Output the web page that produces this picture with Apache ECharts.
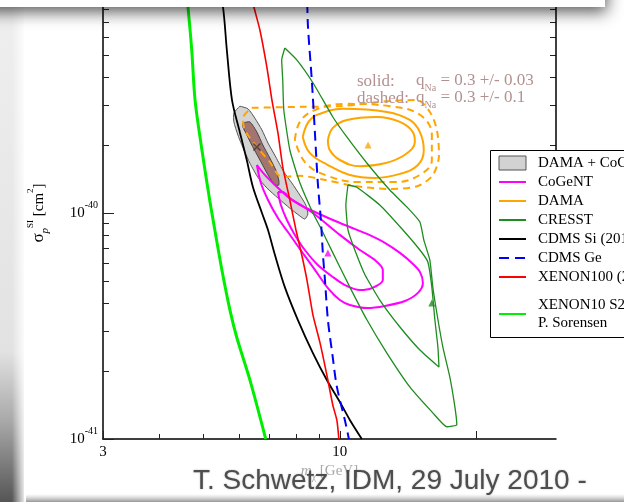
<!DOCTYPE html>
<html><head><meta charset="utf-8">
<script src="https://cdn.jsdelivr.net/npm/echarts@6/dist/echarts.min.js"></script>
<style>html,body{margin:0;padding:0;background:#fff;}#c{width:624px;height:502px;}</style>
</head><body><div id="c"></div>
<script>
// ---- axis ticks (mass in GeV, cross-section in units of 1e-40 cm^2) ----
const xTickMajor = [3, 10, 20];
const xTickLabels = [3, 10];
const xTickMinor = [4, 5, 6, 7, 8, 9];
const yTickMajor = [0.1, 1, 10];
const yTickLabels = [0.1, 1];
const yLabelExp = {0.1: '-41', 1: '-40'};
const yTickMinor = [0.2, 0.3, 0.4, 0.5, 0.6, 0.7, 0.8, 0.9, 2, 3, 4, 5, 6, 7, 8, 9];
const yTickRight = [2, 3, 4, 5, 6, 7, 8, 9];

// ---- exclusion limits [mass, sigma/1e-40] ----
const xenon10 = [[4.57,10],[4.62,8.16],[4.71,5.26],[4.79,3.16],[4.96,1.90],[5.16,1.14],[5.32,0.80],[5.49,0.56],[5.72,0.372],[5.92,0.282],[6.33,0.1825],[6.86,0.1]];
const cdmsSi = [[5.38,10],[5.52,8.16],[5.63,5.26],[5.78,3.16],[6.02,2.26],[6.23,1.716],[6.43,1.30],[6.73,1.0],[6.94,0.841],[7.19,0.652],[7.56,0.470],[8.08,0.336],[8.72,0.240],[9.36,0.1825],[10.0,0.1458],[10.52,0.1214],[11.18,0.1]];
const xenon100 = [[6.30,10],[6.46,8.16],[6.66,6.45],[6.90,4.42],[7.08,3.16],[7.30,2.26],[7.48,1.60],[7.755,1.14],[8.00,0.841],[8.24,0.652],[8.46,0.505],[8.72,0.354],[9.03,0.269],[9.36,0.192],[9.65,0.141],[9.85,0.121],[9.95,0.1]];
const cdmsGe = [[8.46,10],[8.50,6.79],[8.67,3.88],[8.81,2.26],[8.94,1.358],[9.08,0.931],[9.17,0.666],[9.27,0.505],[9.41,0.336],[9.63,0.2355],[9.85,0.170],[10.26,0.121],[10.47,0.1]];

// ---- allowed regions (closed contours) ----
const dcOuter = [[6.015,2.97],[5.835,2.77],[5.835,2.53],[5.955,2.215],[6.14,1.90],[6.33,1.66],[6.59,1.44],[6.90,1.29],[7.30,1.165],[7.755,1.05],[8.16,0.97],[8.37,0.94],[8.50,0.99],[8.41,1.085],[8.16,1.20],[7.83,1.36],[7.52,1.52],[7.22,1.77],[6.94,2.04],[6.73,2.33],[6.49,2.63],[6.27,2.89],[6.015,2.97]];
const dcInner = [[6.11,2.505],[6.33,2.53],[6.56,2.28],[6.76,2.00],[7.006,1.75],[7.22,1.55],[7.33,1.40],[7.33,1.33],[7.19,1.33],[6.94,1.474],[6.66,1.716],[6.39,2.00],[6.20,2.26],[6.11,2.40],[6.11,2.505]];
const cogentOuter = [[6.56,1.631],[6.83,1.474],[7.19,1.33],[7.68,1.176],[8.16,1.085],[8.81,1.01],[9.65,0.931],[10.52,0.867],[11.48,0.808],[12.57,0.738],[13.57,0.666],[14.42,0.601],[15.02,0.549],[15.25,0.49],[14.87,0.443],[13.92,0.408],[12.57,0.388],[11.48,0.380],[10.52,0.392],[10.0,0.412],[9.41,0.465],[8.81,0.560],[8.16,0.693],[7.68,0.824],[7.30,0.95],[6.94,1.142],[6.69,1.36],[6.56,1.631]];
const cogentInner = [[7.30,1.239],[7.48,1.239],[7.755,1.165],[8.72,1.0],[10.0,0.80],[11.07,0.686],[11.95,0.619],[12.44,0.560],[12.44,0.505],[11.77,0.465],[11.07,0.456],[10.26,0.480],[9.65,0.521],[8.94,0.589],[8.37,0.686],[7.955,0.80],[7.64,0.931],[7.41,1.085],[7.30,1.239]];
const cresstOuter = [[7.56,5.37],[8.04,4.75],[8.72,3.77],[9.65,2.66],[10.36,2.17],[11.48,1.66],[12.89,1.264],[14.06,1.063],[15.02,0.913],[15.32,0.760],[15.80,0.619],[16.04,0.470],[16.37,0.361],[16.88,0.255],[17.49,0.188],[17.94,0.139],[18.12,0.1156],[17.22,0.1133],[16.04,0.1305],[14.27,0.170],[12.70,0.240],[11.48,0.336],[10.52,0.470],[9.65,0.666],[9.12,0.841],[8.72,1.0],[8.16,1.36],[7.755,1.90],[7.52,2.857],[7.48,3.88],[7.44,4.75],[7.56,5.37]];
const cresstInner = [[10.42,1.33],[10.90,1.30],[12.25,1.085],[13.78,0.841],[15.02,0.686],[15.64,0.607],[15.96,0.470],[16.21,0.336],[16.46,0.255],[16.55,0.208],[15.02,0.2476],[13.57,0.313],[12.25,0.412],[11.36,0.533],[10.79,0.686],[10.42,0.841],[10.31,1.085],[10.42,1.33]];
const damaSolidInner = [[9.41,2.104],[9.65,2.38],[10.36,2.58],[12.07,2.66],[13.57,2.53],[14.49,2.28],[14.64,2.06],[13.92,1.81],[12.57,1.66],[11.07,1.61],[10.0,1.716],[9.50,1.90],[9.41,2.104]];
const damaSolidOuter = [[8.28,2.17],[8.50,2.505],[8.90,2.716],[10.15,2.89],[12.70,2.80],[14.27,2.58],[15.02,2.28],[15.32,1.90],[14.87,1.63],[13.57,1.49],[11.95,1.43],[10.52,1.474],[9.41,1.63],[8.59,1.84],[8.28,2.17]];
const damaDashMid = [[7.955,2.104],[8.16,2.53],[8.81,2.857],[10.26,3.04],[12.89,2.97],[15.02,2.72],[15.96,2.215],[15.96,1.716],[15.02,1.474],[13.23,1.37],[11.07,1.37],[9.27,1.474],[8.37,1.68],[7.955,2.104]];
const damaDashOuter = [[6.39,2.92],[8.16,2.95],[10.0,2.97],[12.89,3.13],[14.79,3.162],[15.80,2.80],[16.37,2.33],[16.55,1.806],[16.04,1.474],[14.87,1.317],[12.89,1.277],[10.79,1.317],[9.27,1.40],[8.16,1.46],[7.44,1.444],[7.006,1.68],[6.56,1.96],[6.17,2.33],[6.11,2.63],[6.39,2.92]];

// ---- best-fit points ----
const dcBest = [[6.56,1.96]];
const damaBest = [[11.54,2.0]];
const cogentBest = [[9.41,0.666]];
const cresstBest = [[15.96,0.40]];

const serif = '"Liberation Serif", "Times New Roman", serif';
const sans = '"Liberation Sans", Arial, sans-serif';
const C = {mag:'#ff00ff', ora:'#ffa500', cre:'#1e8c1e', blk:'#000000', blue:'#0000ff', red:'#ff0000', lime:'#00ee00'};
const noteColor = '#b39191';

function line(name, data, color, width, dash, smooth) {
  return {type:'line', name, data, xAxisIndex:0, yAxisIndex:0, showSymbol:false, symbol:'none',
    smooth: smooth || false, z:2, silent:true, animation:false,
    lineStyle:{color, width, type: dash || 'solid'}, itemStyle:{color}, emphasis:{disabled:true}};
}
function poly(name, data, fill, stroke) {
  return {type:'custom', name, data, xAxisIndex:0, yAxisIndex:0, z:1, silent:true, itemStyle:{color:fill},
    renderItem:(p, api) => p.dataIndex === 0 ? {type:'polygon',
      shape:{points:data.map(d => api.coord(d)), smooth:0.2},
      style:{fill, stroke, lineWidth:1}} : null};
}
function marker(name, data, symbol, color, size, border) {
  return {type:'scatter', name, data, xAxisIndex:0, yAxisIndex:0, symbol, symbolSize:size, z:5, silent:true,
    itemStyle: border ? {color:'none', borderColor:color, borderWidth:1.5} : {color}};
}
function logAxis(extra) {
  return Object.assign({type:'log', logBase:10, splitLine:{show:false}, minorTick:{show:false}, minorSplitLine:{show:false}}, extra);
}
const axLine = {show:true, lineStyle:{color:'#000', width:1.5}};
const tickStyle = {color:'#222', width:1};
const supRich = {
  a:{fontFamily:serif, fontSize:15, color:'#000', lineHeight:16, verticalAlign:'bottom'},
  b:{fontFamily:serif, fontSize:10, color:'#000', lineHeight:10, padding:[5,0,11,0], verticalAlign:'bottom'}
};
const noteRich = {
  q:{fontFamily:serif, fontSize:17, fill:noteColor, lineHeight:17, verticalAlign:'bottom', padding:[0,0,4,0]},
  s:{fontFamily:serif, fontSize:10, fill:noteColor, lineHeight:10, verticalAlign:'bottom'}
};
const legendText = {fontFamily:serif, fontSize:15, color:'#000', padding:[0,0,0,7]};
const hiddenSymbol = {color:'rgba(0,0,0,0)', borderColor:'rgba(0,0,0,0)', borderWidth:0};

const option = {
  animation:false,
  backgroundColor:'#ffffff',
  grid:{left:103, right:68, top:-13, bottom:63, containLabel:false, outerBoundsMode:'none'},
  xAxis:[
    logAxis({min:3, max:30, position:'bottom', gridIndex:0, axisLine:axLine,
      axisTick:{show:true, inside:true, length:8, customValues:xTickMajor, lineStyle:tickStyle},
      axisLabel:{show:true, customValues:xTickLabels, formatter:v => String(Math.round(v)), fontFamily:serif, fontSize:15, color:'#000', margin:6},
      name:'{i|m}{s|χ}{n| [GeV]}', nameLocation:'middle', nameGap:27, nameMoveOverlap:false,
      nameTextStyle:{rich:{
        i:{fontFamily:serif, fontStyle:'italic', fontSize:15, color:'#a8a8a8', lineHeight:16, verticalAlign:'bottom', padding:[0,0,3,0]},
        s:{fontFamily:serif, fontSize:10, color:'#a8a8a8', lineHeight:10, verticalAlign:'bottom'},
        n:{fontFamily:serif, fontSize:15, color:'#a8a8a8', lineHeight:16, verticalAlign:'bottom', padding:[0,0,3,0]}}}}),
    logAxis({min:3, max:30, position:'bottom', gridIndex:0, axisLine:{show:false},
      axisTick:{show:true, inside:true, length:5, customValues:xTickMinor, lineStyle:tickStyle},
      axisLabel:{show:false}})
  ],
  yAxis:[
    logAxis({min:0.1, max:10, position:'left', gridIndex:0, axisLine:axLine,
      axisTick:{show:true, inside:true, length:11, customValues:yTickMajor, lineStyle:tickStyle},
      axisLabel:{show:true, customValues:yTickLabels, margin:5,
        formatter:v => '{a|10}{b|' + yLabelExp[v] + '}', rich:supRich},
      name:'{g|σ}{p|p}{u|SI}{n| [cm}{u|2}{n|]}', nameLocation:'middle', nameRotate:90, nameGap:52, nameMoveOverlap:false,
      nameTextStyle:{rich:{
        g:{fontFamily:serif, fontSize:17, color:'#000', lineHeight:18, verticalAlign:'bottom', padding:[0,0,4,0]},
        p:{fontFamily:serif, fontStyle:'italic', fontSize:11, color:'#000', lineHeight:11, verticalAlign:'bottom'},
        u:{fontFamily:serif, fontSize:9, color:'#000', lineHeight:9, verticalAlign:'bottom', padding:[0,0,16,0]},
        n:{fontFamily:serif, fontSize:15, color:'#000', lineHeight:16, verticalAlign:'bottom', padding:[0,0,4,0]}}}}),
    logAxis({min:0.1, max:10, position:'left', gridIndex:0, axisLine:{show:false},
      axisTick:{show:true, inside:true, length:6, customValues:yTickMinor, lineStyle:tickStyle},
      axisLabel:{show:false}}),
    logAxis({min:0.1, max:10, position:'right', gridIndex:0, axisLine:{show:false},
      axisTick:{show:true, inside:true, length:6, customValues:yTickRight, lineStyle:tickStyle},
      axisLabel:{show:false}})
  ],
  legend:[
    {left:498, top:153.5, orient:'vertical', padding:0, itemGap:0, itemWidth:27, itemHeight:14, selectedMode:false, z:6,
      itemStyle:hiddenSymbol,
      textStyle:Object.assign({lineHeight:19}, legendText),
      data:[{name:'DAMA + CoGeNT', icon:'rect', itemStyle:{color:'#d2d2d2', borderColor:'#555', borderWidth:1}},
        'CoGeNT', 'DAMA', 'CRESST', 'CDMS Si (2010)', 'CDMS Ge', 'XENON100 (2010)']},
    {left:498, top:296, orient:'vertical', padding:0, itemGap:0, itemWidth:27, itemHeight:14, selectedMode:false, z:6,
      itemStyle:hiddenSymbol,
      textStyle:Object.assign({lineHeight:18}, legendText),
      data:['XENON10 S2\nP. Sorensen']}
  ],
  graphic:[
    {type:'line', z:1, shape:{x1:556, y1:0, x2:556, y2:150}, style:{stroke:'#000', lineWidth:1.5}},
    {type:'rect', z:3, shape:{x:490.5, y:150.5, width:200, height:187}, style:{fill:'#fff', stroke:'#000', lineWidth:1}},
    {type:'text', z:3, x:357, y:82, style:{text:'solid:', font:'17px ' + serif, fill:noteColor, verticalAlign:'middle'}},
    {type:'text', z:3, x:357, y:99, style:{text:'dashed:', font:'17px ' + serif, fill:noteColor, verticalAlign:'middle'}},
    {type:'text', z:3, x:416, y:85, style:{text:'{q|q}{s|Na}{q| = 0.3 +/- 0.03}', verticalAlign:'middle', rich:noteRich}},
    {type:'text', z:3, x:416, y:102, style:{text:'{q|q}{s|Na}{q| = 0.3 +/- 0.1}', verticalAlign:'middle', rich:noteRich}},
    {type:'rect', z:20, shape:{x:0, y:0, width:24, height:502},
      style:{fill:new echarts.graphic.LinearGradient(0,0,0,1,[{offset:0,color:'#efefef'},{offset:0.7,color:'#e2e2e2'},{offset:0.84,color:'#a8a8a8'},{offset:1,color:'#555'}])}},
    {type:'rect', z:20, shape:{x:12, y:0, width:14, height:502},
      style:{fill:new echarts.graphic.LinearGradient(0,0,1,0,[{offset:0,color:'rgba(255,255,255,0)'},{offset:1,color:'rgba(255,255,255,1)'}])}},
    {type:'rect', z:19, shape:{x:0, y:494, width:624, height:8},
      style:{fill:new echarts.graphic.LinearGradient(0,0,0,1,[{offset:0,color:'rgba(190,190,190,0)'},{offset:1,color:'rgba(150,150,150,1)'}])}},
    {type:'rect', z:20, shape:{x:-20, y:-30, width:625, height:37},
      style:{fill:'#fff', shadowBlur:16, shadowOffsetY:5, shadowOffsetX:2, shadowColor:'rgba(0,0,0,0.65)'}},
    {type:'text', z:21, x:193, y:481, style:{text:'T. Schwetz, IDM, 29 July 2010 -', font:'28px ' + sans, fill:'#4d4d4d',
      verticalAlign:'middle', textShadowBlur:2, textShadowColor:'rgba(0,0,0,0.25)'}}
  ],
  series:[
    poly('DAMA + CoGeNT', dcOuter, '#d4d4d4', '#555'),
    poly('DAMA + CoGeNT', dcInner, '#a47470', '#444'),
    line('CoGeNT', cogentOuter, C.mag, 2, null, 0.3),
    line('CoGeNT', cogentInner, C.mag, 2, null, 0.3),
    line('DAMA', damaSolidInner, C.ora, 2, null, 0.4),
    line('DAMA', damaSolidOuter, C.ora, 2, null, 0.4),
    line('DAMA', damaDashMid, C.ora, 2, [7,5], 0.4),
    line('DAMA', damaDashOuter, C.ora, 2, [7,5], 0.3),
    line('CRESST', cresstOuter, C.cre, 1.3, null, 0.15),
    line('CRESST', cresstInner, C.cre, 1.3, null, 0.15),
    line('CDMS Si (2010)', cdmsSi, C.blk, 1.8, null, 0.3),
    line('CDMS Ge', cdmsGe, C.blue, 2, [10,6], 0.3),
    line('XENON100 (2010)', xenon100, C.red, 1.6, null, 0.2),
    line('XENON10 S2\nP. Sorensen', xenon10, C.lime, 3, null, 0.3),
    marker('DAMA + CoGeNT best fit', dcBest, 'path://M0,0L10,10M10,0L0,10', '#333', 7, true),
    marker('DAMA best fit', damaBest, 'triangle', C.ora, 7),
    marker('CoGeNT best fit', cogentBest, 'triangle', C.mag, 7),
    marker('CRESST best fit', cresstBest, 'triangle', C.cre, 7)
  ]
};
const chart = echarts.init(document.getElementById('c'), null, {renderer:'canvas'});
chart.setOption(option);
</script>
</body></html>
